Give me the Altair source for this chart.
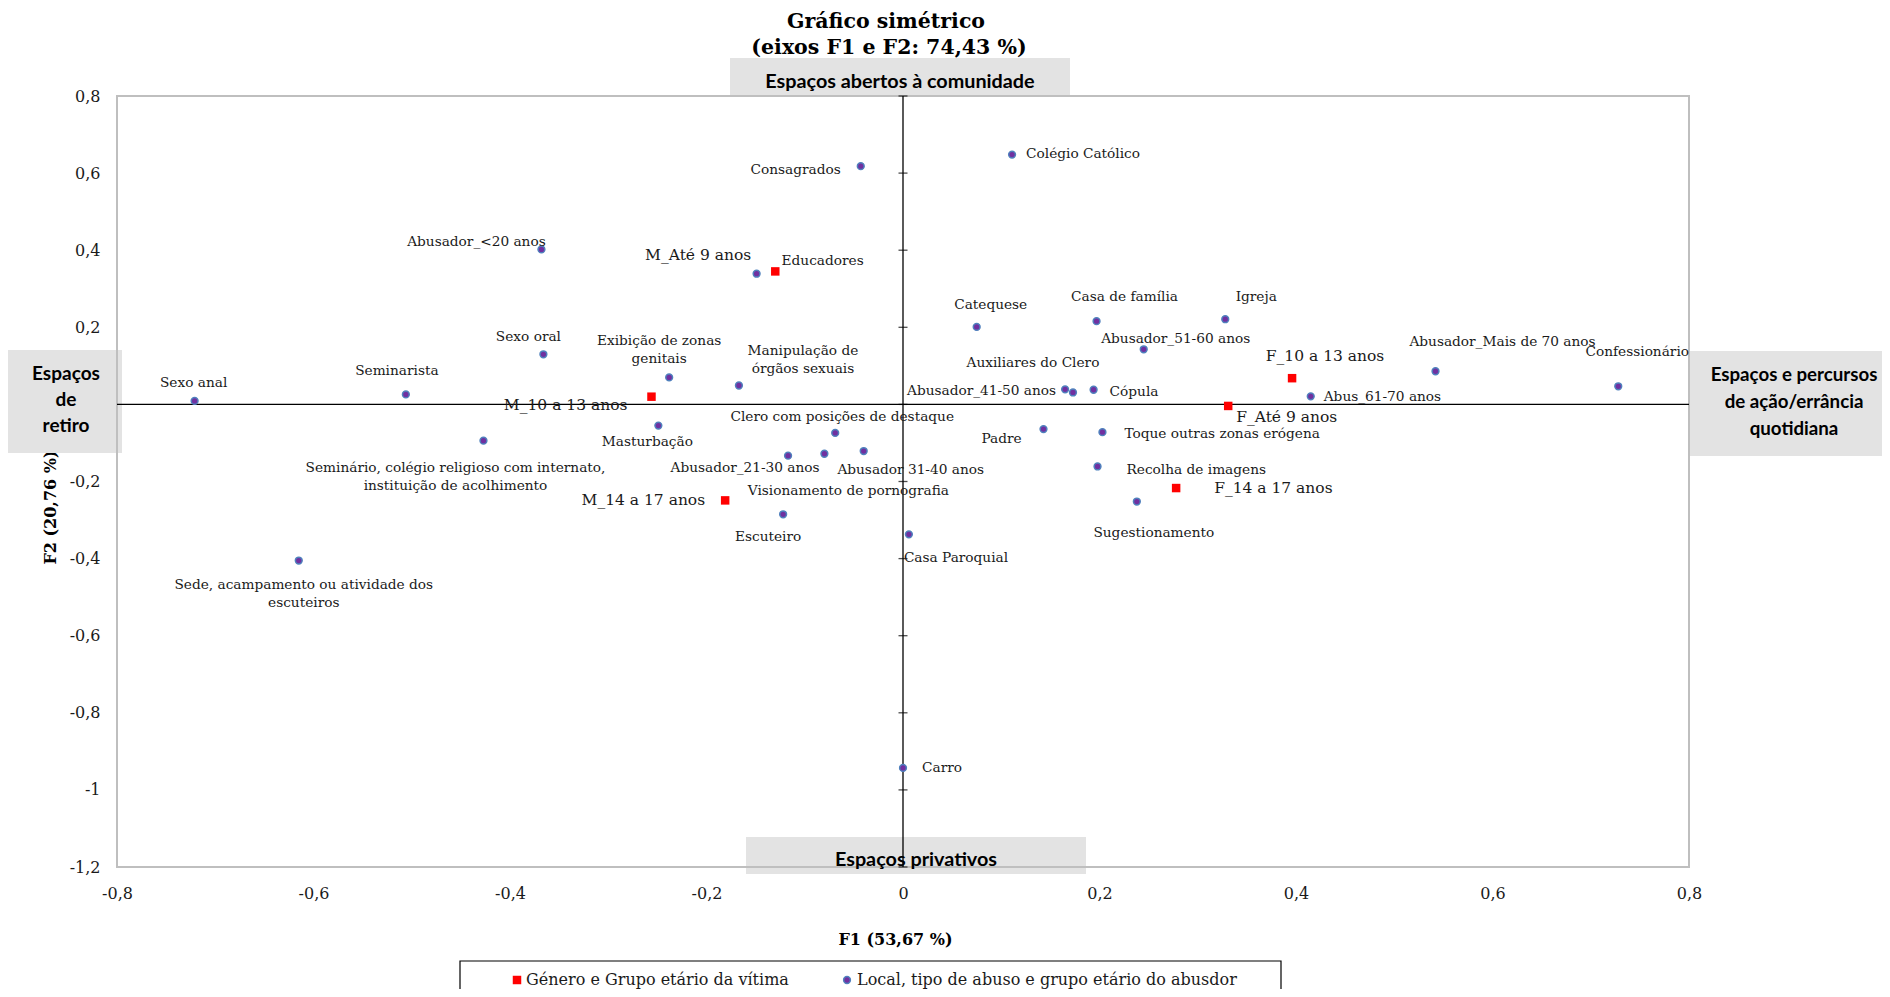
import altair as alt
import pandas as pd

# ------------------------------------------------------------------
# Data
# ------------------------------------------------------------------
GROUPS = ["Género e Grupo etário da vítima",
          "Local, tipo de abuso e grupo etário do abusdor"]

VICTIM_LABELS = ["M_Até 9 anos", "M_10 a 13 anos", "M_14 a 17 anos",
                 "F_Até 9 anos", "F_10 a 13 anos", "F_14 a 17 anos"]
VICTIM_F1 = [-0.130, -0.256, -0.181, 0.331, 0.396, 0.278]
VICTIM_F2 = [0.345, 0.020, -0.249, -0.004, 0.068, -0.217]

SITE_LABELS = [
    "Sexo anal", "Seminarista", "Sexo oral", "Abusador_<20 anos",
    "Consagrados", "Colégio Católico", "Educadores",
    "Exibição de zonas\ngenitais", "Manipulação de\nórgãos sexuais",
    "Masturbação",
    "Seminário, colégio religioso com internato,\ninstituição de acolhimento",
    "Clero com posições de destaque", "Abusador_21-30 anos",
    "Visionamento de pornografia", "Abusador 31-40 anos", "Escuteiro",
    "Casa Paroquial", "Sede, acampamento ou atividade dos\nescuteiros",
    "Carro", "Catequese", "Casa de família", "Igreja",
    "Abusador_51-60 anos", "Abusador_Mais de 70 anos", "Confessionário",
    "Abusador_41-50 anos", "Auxiliares do Clero", "Cópula",
    "Abus_61-70 anos", "Padre", "Toque outras zonas erógena",
    "Recolha de imagens", "Sugestionamento",
]
SITE_F1 = [-0.721, -0.506, -0.366, -0.368, -0.043, 0.111, -0.149,
           -0.238, -0.167, -0.249, -0.427, -0.069, -0.117, -0.080,
           -0.040, -0.122, 0.006, -0.615, 0.000, 0.075, 0.197, 0.328,
           0.245, 0.542, 0.728, 0.165, 0.173, 0.194, 0.415, 0.143,
           0.203, 0.198, 0.238]
SITE_F2 = [0.009, 0.026, 0.130, 0.402, 0.618, 0.648, 0.339,
           0.070, 0.049, -0.055, -0.094, -0.074, -0.133, -0.128,
           -0.121, -0.285, -0.337, -0.405, -0.943, 0.201, 0.216, 0.221,
           0.143, 0.086, 0.047, 0.039, 0.031, 0.038, 0.021, -0.064,
           -0.072, -0.161, -0.252]

X_TICKS = [-0.8, -0.6, -0.4, -0.2, 0, 0.2, 0.4, 0.6, 0.8]
Y_TICKS = [-1.2, -1, -0.8, -0.6, -0.4, -0.2, 0, 0.2, 0.4, 0.6, 0.8]

TITLE_LINES = ["Gráfico simétrico", "(eixos F1 e F2: 74,43 %)"]
X_TITLE = "F1 (53,67 %)"
Y_TITLE = "F2 (20,76 %)"
BOX_TOP = "Espaços abertos à comunidade"
BOX_BOTTOM = "Espaços privativos"
BOX_LEFT = "Espaços\nde\nretiro"
BOX_RIGHT = "Espaços e percursos\nde ação/errância\nquotidiana"

# ------------------------------------------------------------------
# Label placement (pixel offsets from each point: anchor, dx, dy)
# ------------------------------------------------------------------
LABEL_LAYOUT = {
    "Sexo anal": ("center", -1, -18),
    "Seminarista": ("center", -9, -23),
    "Sexo oral": ("center", -15, -17),
    "Abusador_<20 anos": ("center", -65, -7),
    "Consagrados": ("right", -20, 4),
    "Colégio Católico": ("left", 14, -1),
    "Educadores": ("left", 25, -13),
    "Exibição de zonas\ngenitais": ("center", -10, -36),
    "Manipulação de\nórgãos sexuais": ("center", 64, -35),
    "Masturbação": ("center", -11, 16),
    "Seminário, colégio religioso com internato,\ninstituição de acolhimento": ("center", -28, 27),
    "Clero com posições de destaque": ("center", 7, -16),
    "Abusador_21-30 anos": ("center", -43, 12),
    "Visionamento de pornografia": ("center", 24, 37),
    "Abusador 31-40 anos": ("center", 47, 19),
    "Escuteiro": ("center", -15, 23),
    "Casa Paroquial": ("left", -5, 24),
    "Sede, acampamento ou atividade dos\nescuteiros": ("center", 5, 24),
    "Carro": ("left", 19, 0),
    "Catequese": ("center", 14, -22),
    "Casa de família": ("center", 28, -24),
    "Igreja": ("center", 31, -22),
    "Abusador_51-60 anos": ("center", 32, -10),
    "Abusador_Mais de 70 anos": ("center", 67, -29),
    "Confessionário": ("center", 19, -34),
    "Abusador_41-50 anos": ("right", -9, 2),
    "Auxiliares do Clero": ("center", -40, -29),
    "Cópula": ("left", 16, 2),
    "Abus_61-70 anos": ("left", 13, 1),
    "Padre": ("center", -42, 10),
    "Toque outras zonas erógena": ("left", 22, 2),
    "Recolha de imagens": ("left", 29, 4),
    "Sugestionamento": ("center", 17, 31),
    "M_Até 9 anos": ("right", -24, -16),
    "M_10 a 13 anos": ("right", -24, 8),
    "M_14 a 17 anos": ("right", -20, 0),
    "F_Até 9 anos": ("left", 8, 11),
    "F_10 a 13 anos": ("center", 33, -22),
    "F_14 a 17 anos": ("left", 38, 0),
}

rows = []
for lab, f1, f2 in zip(VICTIM_LABELS, VICTIM_F1, VICTIM_F2):
    rows.append({"label": lab, "F1": f1, "F2": f2, "group": GROUPS[0]})
for lab, f1, f2 in zip(SITE_LABELS, SITE_F1, SITE_F2):
    rows.append({"label": lab, "F1": f1, "F2": f2, "group": GROUPS[1]})
df = pd.DataFrame(rows)
df["anchor"] = [LABEL_LAYOUT[l][0] for l in df["label"]]
df["dx"] = [LABEL_LAYOUT[l][1] for l in df["label"]]
df["dy"] = [LABEL_LAYOUT[l][2] for l in df["label"]]

# ------------------------------------------------------------------
# Styling
# ------------------------------------------------------------------
W, H = 1572, 771
X_DOMAIN = [-0.8, 0.8]
Y_DOMAIN = [-1.2, 0.8]
PX_X = W / (X_DOMAIN[1] - X_DOMAIN[0])   # pixels per unit on F1
PX_Y = H / (Y_DOMAIN[1] - Y_DOMAIN[0])   # pixels per unit on F2

SERIF = "DejaVu Serif"
SANS = "Lato"
TXT = "#1a1a1a"
GREY = "#E3E3E3"
RED = "#FF0000"
PURPLE = "#7030A0"
RING = "#4F81BD"
DOT_SIZE = 46

xscale = alt.Scale(domain=X_DOMAIN, nice=False, zero=False)
yscale = alt.Scale(domain=Y_DOMAIN, nice=False, zero=False)

xaxis = alt.Axis(
    values=X_TICKS, labelExpr="replace(toString(datum.value), '.', ',')",
    domain=False, ticks=False, tickSize=0, grid=False,
    labelFont=SERIF, labelFontSize=16, labelColor=TXT,
    labelPadding=26, labelBaseline="middle", labelFlush=False,
    labelOverlap=False,
    title=X_TITLE, titleFont=SERIF, titleFontWeight="bold",
    titleFontSize=16, titleColor="black", titleX=778, titleY=72,
    titleAlign="center", titleBaseline="middle",
)
yaxis = alt.Axis(
    values=Y_TICKS, labelExpr="replace(toString(datum.value), '.', ',')",
    domain=False, ticks=False, tickSize=0, grid=False,
    labelFont=SERIF, labelFontSize=16, labelColor=TXT,
    labelPadding=17, labelAlign="right", labelBaseline="middle",
    labelFlush=False, labelOverlap=False,
    title=Y_TITLE, titleFont=SERIF, titleFontWeight="bold",
    titleFontSize=16, titleColor="black", titleX=-67, titleY=411,
    titleAngle=270, titleAlign="center", titleBaseline="middle",
)
X = alt.X("F1:Q", scale=xscale, axis=xaxis)
Y = alt.Y("F2:Q", scale=yscale, axis=yaxis)
LX = alt.X("lx:Q", scale=xscale, axis=xaxis)
LY = alt.Y("ly:Q", scale=yscale, axis=yaxis)

one = alt.Chart(alt.Data(values=[{}]))


def box(x1, x2, y1, y2):
    return one.mark_rect(color=GREY, opacity=1).encode(
        x=alt.value(x1), x2=alt.value(x2), y=alt.value(y1), y2=alt.value(y2))


def note(text, x, y, font, size, weight="normal", align="center",
         line_height=18, color="black"):
    return one.mark_text(
        text=text.split("\n") if "\n" in text else text,
        font=font, fontSize=size, fontWeight=weight, align=align,
        baseline="middle", lineHeight=line_height, color=color,
    ).encode(x=alt.value(x), y=alt.value(y))


# grey quadrant boxes
boxes = [
    box(613, 953, -38, 0),
    box(-109, 5, 254, 357),
    box(1572, 1790, 255, 360),
    box(629, 969, 741, 778),
]

border = one.mark_rect(fillOpacity=0, stroke="#BFBFBF", strokeWidth=2).encode(
    x=alt.value(0), x2=alt.value(W), y=alt.value(0), y2=alt.value(H))

hline = one.mark_rule(color="black", strokeWidth=1.3).encode(y=alt.datum(0))
vline = one.mark_rule(color="black", strokeWidth=1.3).encode(x=alt.datum(0))
ticks = alt.Chart(pd.DataFrame({"F2": Y_TICKS})).mark_tick(
    orient="horizontal", size=9, thickness=1.3, color="black"
).encode(x=alt.datum(0), y=Y)

base = alt.Chart(df)
squares = base.transform_filter(alt.datum.group == GROUPS[0]).mark_square(
    size=72, color=RED, opacity=1).encode(x=X, y=Y)
circles = base.transform_filter(alt.datum.group == GROUPS[1]).mark_circle(
    size=DOT_SIZE, fill=PURPLE, stroke=RING, strokeWidth=1.5, opacity=1
).encode(x=X, y=Y)

label_layers = []
for grp, fsize in [(GROUPS[0], 15.5), (GROUPS[1], 13.7)]:
    for anchor in ["left", "center", "right"]:
        label_layers.append(
            base.transform_filter(
                (alt.datum.group == grp) & (alt.datum.anchor == anchor)
            ).transform_calculate(
                lx=f"datum.F1 + datum.dx / {PX_X}",
                ly=f"datum.F2 - datum.dy / {PX_Y}",
            ).mark_text(
                align=anchor, baseline="middle", font=SERIF, fontSize=fsize,
                color=TXT, lineHeight=18, lineBreak="\n",
            ).encode(x=LX, y=LY, text=alt.Text("label:N"))
        )

box_texts = [
    note(BOX_TOP, 783, -14, SANS, 19.8, "bold"),
    note(BOX_BOTTOM, 799, 764, SANS, 19.8, "bold"),
    note(BOX_LEFT, -51, 278, SANS, 19, "bold", line_height=26),
    note(BOX_RIGHT, 1677, 279, SANS, 18.7, "bold", line_height=27),
]

titles = [
    note(TITLE_LINES[0], 769, -74, SERIF, 20.5, "bold"),
    note(TITLE_LINES[1], 772, -48, SERIF, 20.5, "bold"),
]

legend = [
    one.mark_rect(fill="white", stroke="black", strokeWidth=1.2).encode(
        x=alt.value(343), x2=alt.value(1164), y=alt.value(865),
        y2=alt.value(910)),
    one.mark_square(size=72, color=RED, opacity=1).encode(
        x=alt.value(400), y=alt.value(884)),
    note(GROUPS[0], 409, 884, SERIF, 16, align="left", color=TXT),
    one.mark_circle(size=DOT_SIZE, fill=PURPLE, stroke=RING, strokeWidth=1.5,
                    opacity=1).encode(x=alt.value(730), y=alt.value(884)),
    note(GROUPS[1], 740, 884, SERIF, 16, align="left", color=TXT),
]

chart = alt.layer(
    *boxes, border, hline, vline, ticks, squares, circles,
    *label_layers, *box_texts, *titles, *legend,
).properties(
    width=W, height=H,
    autosize=alt.AutoSizeParams(type="none"),
    padding={"left": 109, "top": 88, "right": 193, "bottom": 122},
    background="white",
).configure_view(stroke=None)

chart.save("out.html", embed_options={"renderer": "svg", "actions": False})
